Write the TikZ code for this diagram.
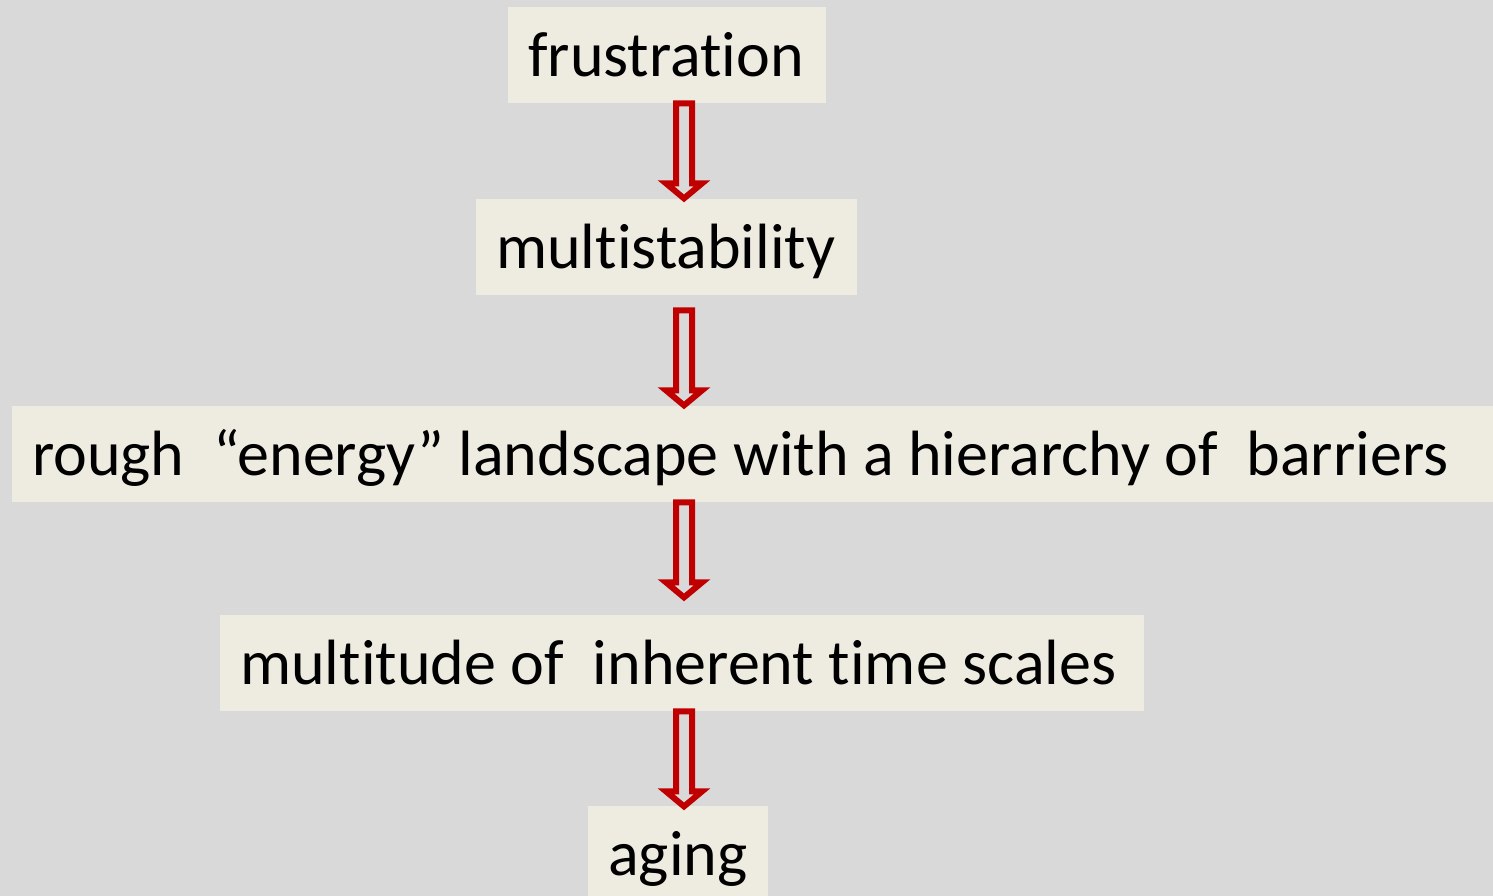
\documentclass[tikz,border=0pt]{standalone}
\usepackage{fontspec}
\setmainfont{Carlito}[Ligatures=NoCommon]
\usetikzlibrary{calc}
\definecolor{slidebg}{HTML}{D9D9D9}
\definecolor{boxbg}{HTML}{EEECE1}
\definecolor{arrowred}{HTML}{C00000}

\begin{document}
\begin{tikzpicture}[x=1pt, y=1pt,
    stage/.style={fill=boxbg, anchor=north west, align=left,
        inner xsep=20pt, inner ysep=0pt, text height=69pt, text depth=27pt,
        font=\fontsize{64}{76}\selectfont,
        execute at begin node={\spaceskip=0.226em\relax\xspaceskip=0.226em\relax}},
    hollow/.style={draw=arrowred, line width=6pt, line join=miter}]
% 1. 背景和边界
\fill[slidebg] (0,0) rectangle (1493,896);
\useasboundingbox (0,0) rectangle (1493,896);
\clip (0,0) rectangle (1493,896);
\coordinate (axis) at (684,0);

% 2. 各个方框
\node[stage, text width=278pt] (fr) at (508,889) {\mbox{frustration}};
\node[stage, text width=341pt] (ms) at (476,697) {\mbox{multistability}};
\node[stage, text width=1441pt] (rl) at (12,490)
    {\mbox{rough\ \ “energy” landscape with a hierarchy of\ \ barriers}};
\node[stage, text width=884pt] (mt) at (220,281) {\mbox{multitude of\ \ inherent time scales}};
\node[stage, text width=140pt] (ag) at (588,90) {\mbox{aging}};

% 3. 空心箭头
\foreach \a/\s in {fr/0, ms/15, rl/0, mt/0}
    {\draw[hollow] let \p1 = ($(axis |- \a.south)+(0,-\s)$) in
        (\x1-8pt,\y1) -- (\x1-8pt,\y1-80pt) -- (\x1-18pt,\y1-80pt) -- (\x1,\y1-95pt)
        -- (\x1+18pt,\y1-80pt) -- (\x1+8pt,\y1-80pt) -- (\x1+8pt,\y1) -- cycle;
    }
\end{tikzpicture}
\end{document}
